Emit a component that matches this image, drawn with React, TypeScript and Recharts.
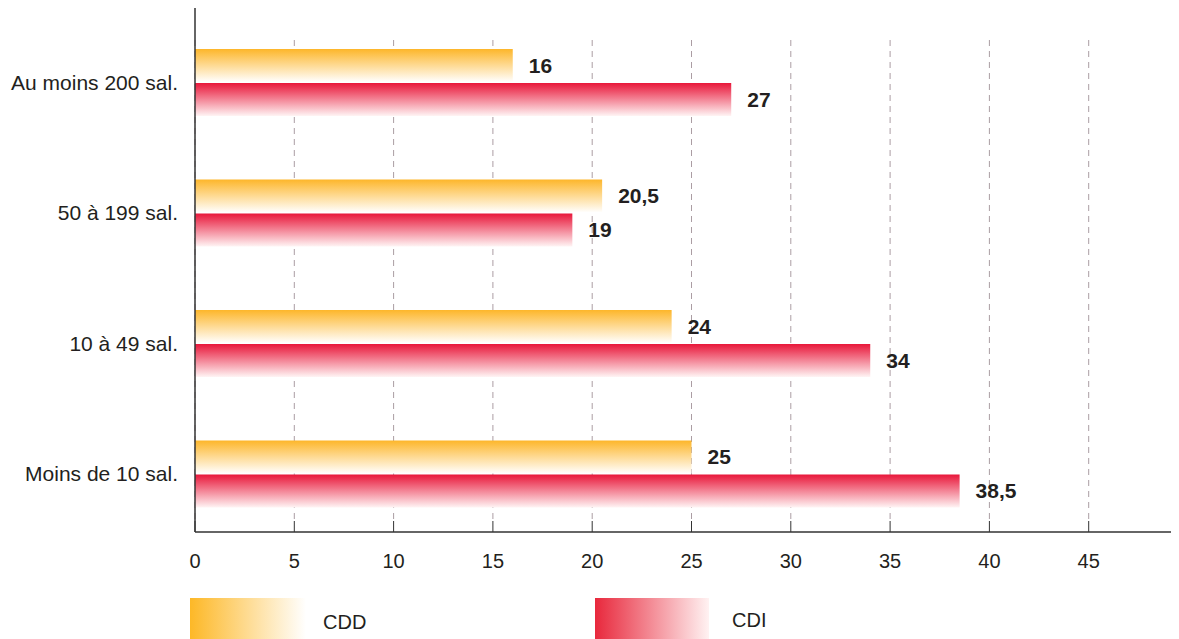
import { BarChart, Bar, XAxis, YAxis, CartesianGrid, LabelList, Legend } from 'recharts';

const categories = ['Au moins 200 sal.', '50 à 199 sal.', '10 à 49 sal.', 'Moins de 10 sal.'];
const cddValues = [16, 20.5, 24, 25];
const cdiValues = [27, 19, 34, 38.5];
const xTicks = [0, 5, 10, 15, 20, 25, 30, 35, 40, 45];
const seriesNames = ['CDD', 'CDI'];

const data = categories.map((cat, i) => ({ cat, CDD: cddValues[i], CDI: cdiValues[i] }));

const FONT = '"Liberation Sans", Arial, Helvetica, sans-serif';
const TEXT = '#231f20';

const fmt = (v: any) => String(v).replace('.', ',');

// dashed grid that starts a bit below the top of the axis, with a short solid tick at the bottom
const GridLine = (p: any) => (
  <g key={p.key ?? `v-${p.x1}`}>
    <line x1={p.x1} x2={p.x2} y1={p.y1 + 32} y2={p.y2 - 11} stroke="#ab9da3" strokeDasharray="6 5" />
    <line x1={p.x1} x2={p.x2} y1={p.y2 - 11} y2={p.y2} stroke="#333" />
  </g>
);

const LegendBox = () => (
  <div style={{ position: 'relative', width: 1180, height: 50, fontFamily: FONT }}>
    <div style={{ position: 'absolute', left: 182, top: 0, width: 116, height: 50, background: 'linear-gradient(to right, #fdb827, #ffffff)' }} />
    <div style={{ position: 'absolute', left: 315, top: 12, fontSize: 20, lineHeight: '24px', color: TEXT }}>{seriesNames[0]}</div>
    <div style={{ position: 'absolute', left: 587, top: 0, width: 114, height: 50, background: 'linear-gradient(to right, #e8283c, #fff2f2)' }} />
    <div style={{ position: 'absolute', left: 724, top: 10, fontSize: 20, lineHeight: '24px', color: TEXT }}>{seriesNames[1]}</div>
  </div>
);

const labelStyle = { fontSize: 21, fontWeight: 'bold', fill: TEXT, fontFamily: FONT };

export default function App() {
  return (
    <div style={{ width: 1171, height: 631, overflow: 'hidden', fontFamily: FONT }}>
      <BarChart
        layout="vertical"
        width={1180}
        height={640}
        data={data}
        margin={{ top: 0, right: 0, left: 0, bottom: 56 }}
        barSize={33}
        barGap={1}
      >
        <defs>
          <linearGradient id="gradCDD" x1="0" y1="0" x2="0" y2="1">
            <stop offset="0%" stopColor="#fdb62a" />
            <stop offset="100%" stopColor="#ffffff" />
          </linearGradient>
          <linearGradient id="gradCDI" x1="0" y1="0" x2="0" y2="1">
            <stop offset="0%" stopColor="#e8173a" />
            <stop offset="100%" stopColor="#fff4f4" />
          </linearGradient>
        </defs>
        <CartesianGrid horizontal={false} vertical={GridLine} />
        <XAxis
          type="number"
          domain={[0, 50]}
          ticks={xTicks}
          axisLine={{ stroke: '#333', strokeWidth: 1.5 }}
          tickLine={false}
          tickSize={0}
          tickMargin={22}
          height={60}
          tick={{ fontSize: 20, fill: TEXT, fontFamily: FONT }}
        />
        <YAxis
          type="category"
          dataKey="cat"
          width={187}
          axisLine={{ stroke: '#333', strokeWidth: 1.5 }}
          tickLine={false}
          tickSize={0}
          tickMargin={17}
          padding={{ top: 9, bottom: -7 }}
          tick={{ fontSize: 21, fill: TEXT, fontFamily: FONT }}
        />
        <Legend
          layout="horizontal"
          verticalAlign="middle"
          align="center"
          content={LegendBox}
          wrapperStyle={{ left: 0, top: 590, width: 1180, height: 50 }}
        />
        <Bar dataKey="CDD" name={seriesNames[0]} fill="url(#gradCDD)" isAnimationActive={false}>
          <LabelList dataKey="CDD" position="right" offset={16} formatter={fmt} style={labelStyle} />
        </Bar>
        <Bar dataKey="CDI" name={seriesNames[1]} fill="url(#gradCDI)" isAnimationActive={false}>
          <LabelList dataKey="CDI" position="right" offset={16} formatter={fmt} style={labelStyle} />
        </Bar>
      </BarChart>
    </div>
  );
}
